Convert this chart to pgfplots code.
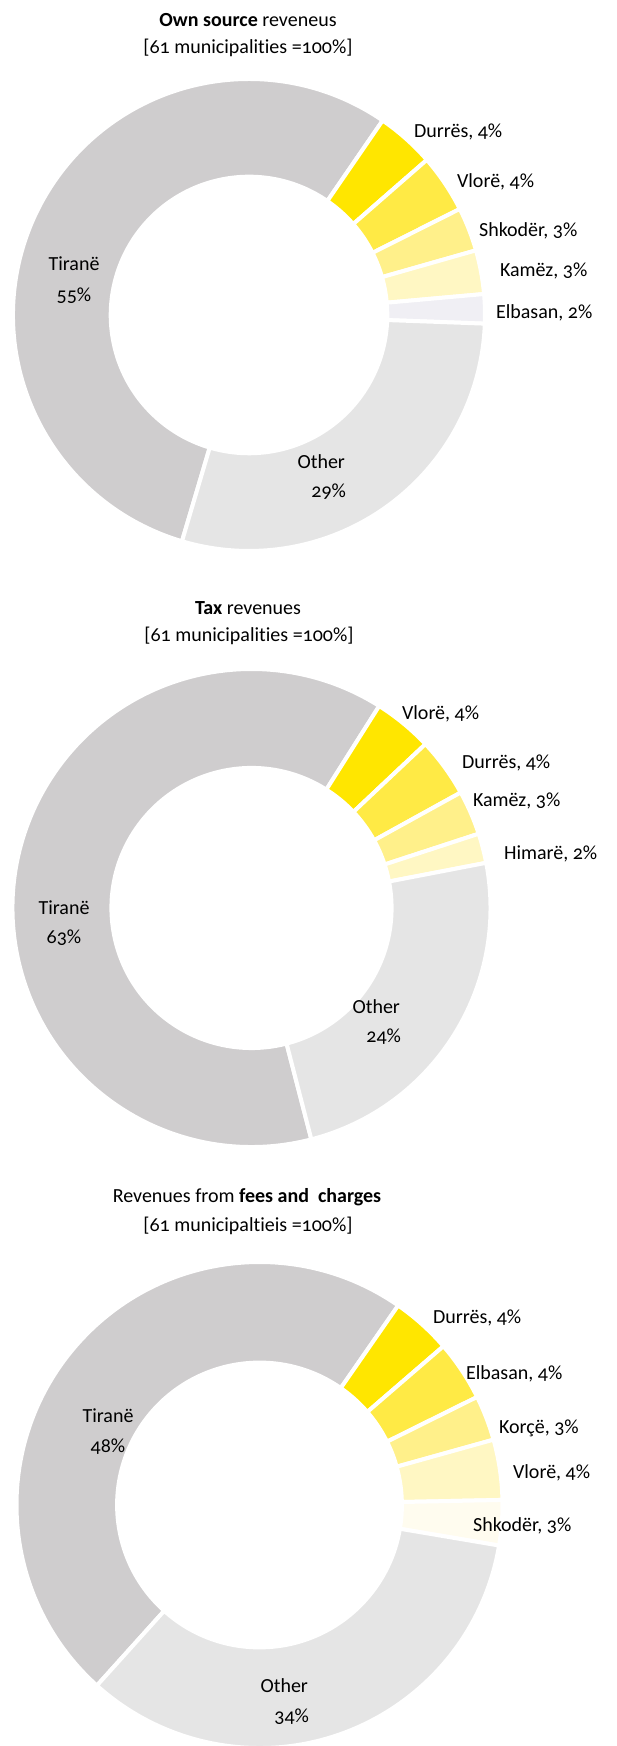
\documentclass[border=0pt]{standalone}
\usepackage{fontspec}
\setmainfont{Carlito}[Numbers=OldStyle, Ligatures=NoCommon]
\usepackage{pgfplots}
\usepackage{pgfplotstable}
\pgfplotsset{compat=1.18}

\definecolor{cTir}{HTML}{CFCDCE}
\definecolor{cOth}{HTML}{E5E5E5}
\definecolor{cY1}{HTML}{FFE600}
\definecolor{cY2}{HTML}{FFEA45}
\definecolor{cY3}{HTML}{FFF08A}
\definecolor{cY4}{HTML}{FFF7C3}
\definecolor{cY5}{HTML}{FFFCEF}
\definecolor{cLav}{HTML}{F0EFF4}
\definecolor{txt}{HTML}{2E2E38}

% shares in percent, clockwise from the start of Tirane
\pgfplotstableread{
city pct col
Tiranë 55 cTir
Durrës 4 cY1
Vlorë 4 cY2
Shkodër 3 cY3
Kamëz 3 cY4
Elbasan 2 cLav
Other 29 cOth
}\ownsrc

\pgfplotstableread{
city pct col
Tiranë 63 cTir
Vlorë 4 cY1
Durrës 4 cY2
Kamëz 3 cY3
Himarë 2 cY4
Other 24 cOth
}\taxrev

\pgfplotstableread{
city pct col
Tiranë 48 cTir
Durrës 4 cY1
Elbasan 4 cY2
Korçë 3 cY3
Vlorë 4 cY4
Shkodër 3 cY5
Other 34 cOth
}\feerev

% y given in pixels from the top of the picture
\newcommand{\px}[2]{(axis cs:#1,{1746-(#2)})}

% #1 table, #2 centre x, #3 centre y (from top), #4 outer radius, #5 start angle
\newcommand{\donut}[5]{%
  \pgfplotstablegetrowsof{#1}%
  \pgfmathtruncatemacro{\nlast}{\pgfplotsretval-1}%
  \pgfmathsetmacro{\acur}{#5}%
  \pgfmathsetmacro{\cy}{1746-#3}%
  \pgfmathsetmacro{\rin}{0.586*#4}%
  \pgfmathsetmacro{\Rpt}{0.5*#4}%
  \pgfmathsetmacro{\rpt}{0.5*\rin}%
  \pgfplotsforeachungrouped \i in {0,...,\nlast}{%
    \pgfplotstablegetelem{\i}{pct}\of{#1}\let\pct\pgfplotsretval
    \pgfplotstablegetelem{\i}{col}\of{#1}\let\col\pgfplotsretval
    \pgfmathsetmacro{\anext}{\acur-3.6*\pct}%
    \pgfmathsetmacro{\xa}{#2+#4*cos(\acur)}%
    \pgfmathsetmacro{\ya}{\cy+#4*sin(\acur)}%
    \pgfmathsetmacro{\xb}{#2+\rin*cos(\anext)}%
    \pgfmathsetmacro{\yb}{\cy+\rin*sin(\anext)}%
    \edef\temp{\noexpand\fill[fill=\col,draw=white,line width=2pt]
      (axis cs:\xa,\ya) arc[start angle=\acur,end angle=\anext,radius=\Rpt pt]
      -- (axis cs:\xb,\yb) arc[start angle=\anext,end angle=\acur,radius=\rpt pt] -- cycle;}%
    \temp
    \let\acur\anext
  }%
}

\newcommand{\lbl}{\fontsize{11.8}{13.5}\selectfont}

\begin{document}
\begin{tikzpicture}
\begin{axis}[
    width=308pt, height=873pt, scale only axis,
    xmin=0, xmax=616, ymin=0, ymax=1746,
    hide axis,
    every node/.append style={font=\lbl, text=txt, inner sep=0pt},
]
    % ---- own source revenues
    \donut{\ownsrc}{249}{315}{236}{253.5}
    \node[anchor=base] at \px{248}{27} {\textbf{Own source} reveneus};
    \node[anchor=base] at \px{248}{54} {[61 municipalities =100\%]};
    \node[anchor=base] at \px{74}{271} {Tiranë};
    \node[anchor=base] at \px{74}{302} {55\%};
    \node[anchor=base east] at \px{352}{469} {Other};
    \node[anchor=base east] at \px{353}{498} {29\%};
    \node[anchor=base west] at \px{407}{138} {Durrës, 4\%};
    \node[anchor=base west] at \px{450}{188} {Vlorë, 4\%};
    \node[anchor=base west] at \px{472}{237} {Shkodër, 3\%};
    \node[anchor=base west] at \px{493}{277} {Kamëz, 3\%};
    \node[anchor=base west] at \px{489}{319} {Elbasan, 2\%};

    % ---- tax revenues
    \donut{\taxrev}{251.5}{908}{239}{284.5}
    \node[anchor=base] at \px{248}{615} {\textbf{Tax} revenues};
    \node[anchor=base] at \px{249}{642} {[61 municipalities =100\%]};
    \node[anchor=base] at \px{64}{915} {Tiranë};
    \node[anchor=base] at \px{64}{944} {63\%};
    \node[anchor=base east] at \px{407}{1014} {Other};
    \node[anchor=base east] at \px{408}{1043} {24\%};
    \node[anchor=base west] at \px{395}{720} {Vlorë, 4\%};
    \node[anchor=base west] at \px{455}{769} {Durrës, 4\%};
    \node[anchor=base west] at \px{466}{807} {Kamëz, 3\%};
    \node[anchor=base west] at \px{497}{860} {Himarë, 2\%};

    % ---- fees and charges
    \donut{\feerev}{259.5}{1505}{243}{228}
    \node[anchor=base] at \px{247}{1203} {Revenues from \textbf{fees and\ \ charges}};
    \node[anchor=base] at \px{248}{1232} {[61 municipaltieis =100\%]};
    \node[anchor=base] at \px{108}{1423} {Tiranë};
    \node[anchor=base] at \px{108}{1453} {48\%};
    \node[anchor=base east] at \px{315}{1692} {Other};
    \node[anchor=base east] at \px{316}{1722} {34\%};
    \node[anchor=base west] at \px{426}{1324} {Durrës, 4\%};
    \node[anchor=base west] at \px{459}{1380} {Elbasan, 4\%};
    \node[anchor=base west] at \px{492}{1434} {Korçë, 3\%};
    \node[anchor=base west] at \px{506}{1479} {Vlorë, 4\%};
    \node[anchor=base west] at \px{466}{1532} {Shkodër, 3\%};
\end{axis}
\pgfresetboundingbox
\path[use as bounding box] (current axis.south west) rectangle (current axis.north east);
\end{tikzpicture}
\end{document}
